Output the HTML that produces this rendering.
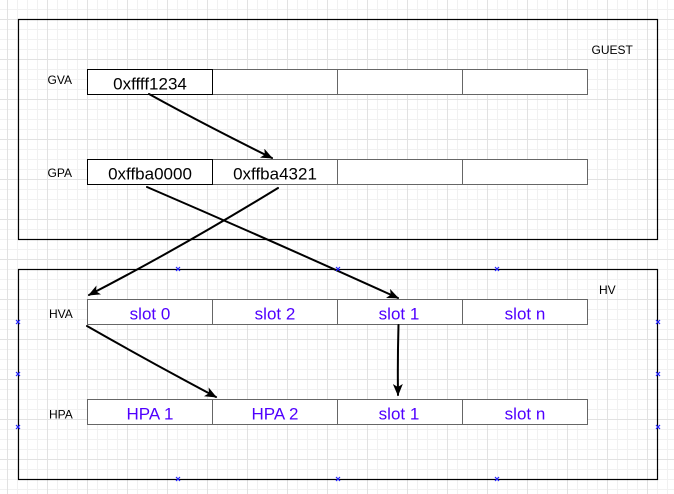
<!DOCTYPE html>
<html>
<head>
<meta charset="utf-8">
<style>
html,body{margin:0;padding:0;background:#fff;}
svg{display:block;}
text{font-family:"Liberation Sans",Arial,sans-serif;}
</style>
</head>
<body>
<svg width="674" height="494" viewBox="0 0 674 494" xmlns="http://www.w3.org/2000/svg">
<defs>
<pattern id="minor" x="7" y="9" width="10" height="10" patternUnits="userSpaceOnUse">
<rect x="0" y="0" width="10" height="1" fill="#f1f1f1"/>
<rect x="0" y="0" width="1" height="10" fill="#f1f1f1"/>
</pattern>
<pattern id="major" x="7" y="19" width="40" height="40" patternUnits="userSpaceOnUse">
<rect x="0" y="0" width="40" height="1" fill="#e2e2e2"/>
<rect x="0" y="0" width="1" height="40" fill="#e2e2e2"/>
</pattern>
<marker id="ah" viewBox="0 0 12 10" refX="11" refY="5" markerWidth="12" markerHeight="10" markerUnits="userSpaceOnUse" orient="auto">
<path d="M0,0 L12,5 L0,10 L3,5 Z" fill="#000"/>
</marker>
</defs>
<rect width="674" height="494" fill="#fff"/>
<rect width="674" height="494" fill="url(#minor)"/>
<rect width="674" height="494" fill="url(#major)"/>

<!-- GUEST box -->
<rect x="18.5" y="19.5" width="639" height="220" fill="none" stroke="#000" stroke-width="1.2"/>
<text x="591.5" y="54" font-size="12" fill="#000">GUEST</text>

<!-- HV box -->
<rect x="18.5" y="269.5" width="639" height="210" fill="none" stroke="#000" stroke-width="1.2"/>
<text x="599" y="294" font-size="12" fill="#000">HV</text>

<!-- labels -->
<text x="47.5" y="84" font-size="12" fill="#000">GVA</text>
<text x="47.5" y="177" font-size="12" fill="#000">GPA</text>
<text x="49" y="318" font-size="12" fill="#000">HVA</text>
<text x="49" y="418.5" font-size="12" fill="#000">HPA</text>

<g fill="#fff" stroke="#666" stroke-width="1">
<rect x="212.5" y="69.5" width="125" height="25"/>
<rect x="337.5" y="69.5" width="125" height="25"/>
<rect x="462.5" y="69.5" width="125" height="25"/>
<rect x="212.5" y="159.5" width="125" height="25"/>
<rect x="337.5" y="159.5" width="125" height="25"/>
<rect x="462.5" y="159.5" width="125" height="25"/>
<rect x="87.5" y="299.5" width="125" height="25"/>
<rect x="212.5" y="299.5" width="125" height="25"/>
<rect x="337.5" y="299.5" width="125" height="25"/>
<rect x="462.5" y="299.5" width="125" height="25"/>
<rect x="87.5" y="399.5" width="125" height="25"/>
<rect x="212.5" y="399.5" width="125" height="25"/>
<rect x="337.5" y="399.5" width="125" height="25"/>
<rect x="462.5" y="399.5" width="125" height="25"/>
</g>
<rect x="87.5" y="69.5" width="125" height="25" fill="#fff" stroke="#000" stroke-width="1"/>
<rect x="87.5" y="159.5" width="125" height="25" fill="#fff" stroke="#000" stroke-width="1"/>

<g font-size="17" text-anchor="middle" fill="#000">
<text x="150" y="89.5">0xffff1234</text>
<text x="150" y="179.5">0xffba0000</text>
<text x="275" y="179.5">0xffba4321</text>
</g>
<g font-size="17" text-anchor="middle" fill="#5000ff">
<text x="150" y="319.5">slot 0</text>
<text x="275" y="319.5">slot 2</text>
<text x="399" y="319.5">slot 1</text>
<text x="525" y="319.5">slot n</text>
<text x="150" y="419.5">HPA 1</text>
<text x="275" y="419.5">HPA 2</text>
<text x="399" y="419.5">slot 1</text>
<text x="525" y="419.5">slot n</text>
</g>

<!-- arrows -->
<g fill="none" stroke="#000" stroke-width="2" stroke-linecap="round">
<path d="M149,94 Q205,125 272,158" marker-end="url(#ah)"/>
<path d="M147,187 Q270,240 398,298" marker-end="url(#ah)"/>
<path d="M278,188 Q180,248 89,295" marker-end="url(#ah)"/>
<path d="M87,326 Q150,362 216,397" marker-end="url(#ah)"/>
<path d="M398.5,325 Q397.5,360 398,395" marker-end="url(#ah)"/>
</g>

<!-- blue x markers -->
<g stroke="#2222ff" stroke-width="1.2">
<path d="M176,267 l4,4 M180,267 l-4,4"/>
<path d="M336,267 l4,4 M340,267 l-4,4"/>
<path d="M495,267 l4,4 M499,267 l-4,4"/>
<path d="M176,477 l4,4 M180,477 l-4,4"/>
<path d="M336,477 l4,4 M340,477 l-4,4"/>
<path d="M495,477 l4,4 M499,477 l-4,4"/>
<path d="M16,320 l4,4 M20,320 l-4,4"/>
<path d="M16,372 l4,4 M20,372 l-4,4"/>
<path d="M16,425 l4,4 M20,425 l-4,4"/>
<path d="M656,320 l4,4 M660,320 l-4,4"/>
<path d="M656,372 l4,4 M660,372 l-4,4"/>
<path d="M656,425 l4,4 M660,425 l-4,4"/>
</g>
</svg>
</body>
</html>
